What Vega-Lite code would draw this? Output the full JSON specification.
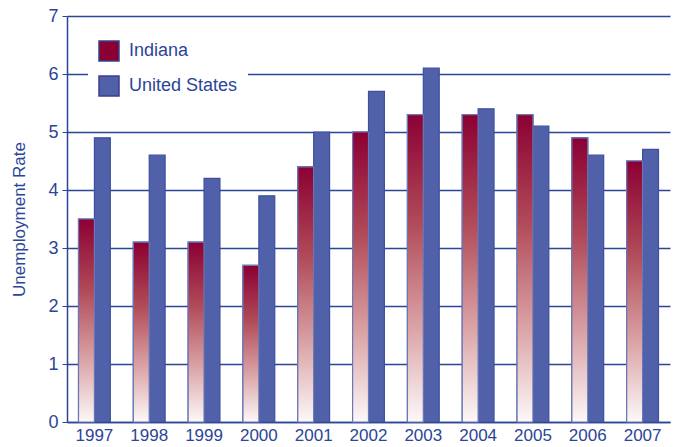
{
  "$schema": "https://vega.github.io/schema/vega-lite/v6.json",
  "autosize": {"type": "none"},
  "width": 603,
  "height": 406,
  "padding": {"left": 67, "top": 16, "right": 9, "bottom": 25},
  "background": "white",
  "config": {
    "view": {"stroke": null},
    "font": "Liberation Sans",
    "axis": {"domainColor": "#2b4597", "gridColor": "#2b4597", "tickColor": "#2b4597", "labelColor": "#2b4597", "titleColor": "#2b4597"}
  },
  "data": {
    "values": [
      {"year": "1997", "series": "Indiana", "rate": 3.5},
      {"year": "1998", "series": "Indiana", "rate": 3.1},
      {"year": "1999", "series": "Indiana", "rate": 3.1},
      {"year": "2000", "series": "Indiana", "rate": 2.7},
      {"year": "2001", "series": "Indiana", "rate": 4.4},
      {"year": "2002", "series": "Indiana", "rate": 5.0},
      {"year": "2003", "series": "Indiana", "rate": 5.3},
      {"year": "2004", "series": "Indiana", "rate": 5.3},
      {"year": "2005", "series": "Indiana", "rate": 5.3},
      {"year": "2006", "series": "Indiana", "rate": 4.9},
      {"year": "2007", "series": "Indiana", "rate": 4.5},
      {"year": "1997", "series": "United States", "rate": 4.9},
      {"year": "1998", "series": "United States", "rate": 4.6},
      {"year": "1999", "series": "United States", "rate": 4.2},
      {"year": "2000", "series": "United States", "rate": 3.9},
      {"year": "2001", "series": "United States", "rate": 5.0},
      {"year": "2002", "series": "United States", "rate": 5.7},
      {"year": "2003", "series": "United States", "rate": 6.1},
      {"year": "2004", "series": "United States", "rate": 5.4},
      {"year": "2005", "series": "United States", "rate": 5.1},
      {"year": "2006", "series": "United States", "rate": 4.6},
      {"year": "2007", "series": "United States", "rate": 4.7}
    ]
  },
  "encoding": {
    "x": {
      "field": "year", "type": "nominal",
      "scale": {"paddingInner": 0.42, "paddingOuter": 0.21},
      "axis": {"title": null, "labelAngle": 0, "ticks": false, "labelFontSize": 17, "labelPadding": 5, "domainWidth": 1.5, "domain": true}
    },
    "xOffset": {"field": "series", "type": "nominal", "scale": {"domain": ["Indiana", "United States"], "paddingInner": 0, "paddingOuter": 0}},
    "y": {
      "field": "rate", "type": "quantitative",
      "scale": {"domain": [0, 7], "nice": false},
      "axis": {"title": "Unemployment Rate", "titleFontSize": 17, "titleFontWeight": "normal", "titlePadding": 19, "labelFontSize": 18, "tickCount": 7, "tickSize": 5, "gridWidth": 1.3, "domainWidth": 1.5, "labelPadding": 4}
    }
  },
  "layer": [
    {
      "mark": {"type": "bar", "strokeWidth": 1.2},
      "encoding": {
        "color": {
          "field": "series", "type": "nominal",
          "scale": {"domain": ["Indiana", "United States"], "range": ["#8b0033", "#5161a9"]},
          "legend": {
            "title": null, "orient": "none", "legendX": 21, "legendY": 14,
            "fillColor": "white", "padding": 10, "symbolType": "square", "symbolSize": 400,
            "symbolStrokeWidth": 1.5, "symbolStrokeColor": "#3a3f8f", "labelFontSize": 18, "labelColor": "#2b4597",
            "rowPadding": 9, "labelOffset": 9, "symbolOpacity": 1
          }
        },
        "stroke": {"value": "#3d4f9e"}
      }
    },
    {
      "transform": [{"filter": "datum.series === 'Indiana'"}],
      "mark": {
        "type": "bar",
        "strokeWidth": 1.2,
        "stroke": "#6b78b8",
        "fill": {
          "gradient": "linear", "x1": 0, "y1": 0, "x2": 0, "y2": 1,
          "stops": [
            {"offset": 0, "color": "#8b0033"},
            {"offset": 0.35, "color": "#b04a58"},
            {"offset": 0.7, "color": "#dba5a8"},
            {"offset": 1, "color": "#fdf8f8"}
          ]
        }
      }
    }
  ]
}
